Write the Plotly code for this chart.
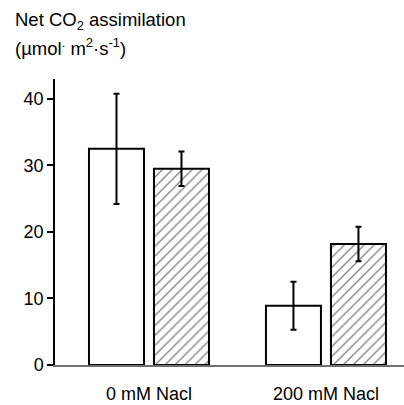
import plotly.graph_objects as go

groups = ["0 mM Nacl", "200 mM Nacl"]
control_vals = [32.5, 8.9]
control_err = [8.3, 3.6]
treated_vals = [29.5, 18.2]
treated_err = [2.6, 2.6]
y_ticks = [0, 10, 20, 30, 40]

FONT = "Liberation Sans Narrow, Arial Narrow, Liberation Sans, Arial, sans-serif"
xpos = [0, 1]
bw = 55 / 177

fig = go.Figure()
fig.add_trace(go.Bar(
    x=xpos, y=control_vals, width=bw, offset=-60 / 177,
    marker=dict(color="white", line=dict(color="black", width=2)),
    error_y=dict(type="data", array=control_err, color="black", thickness=2, width=3),
    showlegend=False,
))
fig.add_trace(go.Bar(
    x=xpos, y=treated_vals, width=bw, offset=5 / 177,
    marker=dict(color="white", line=dict(color="black", width=2),
                pattern=dict(shape="/", fgcolor="black", bgcolor="white", size=7, solidity=0.18)),
    error_y=dict(type="data", array=treated_err, color="black", thickness=2, width=3),
    showlegend=False,
))

fig.update_layout(
    width=404, height=405,
    margin=dict(l=55, r=0, t=79, b=40),
    plot_bgcolor="white", paper_bgcolor="white",
    barmode="overlay",
    font=dict(family=FONT, size=18, color="black"),
    xaxis=dict(range=[-0.531, 1.441], tickvals=xpos, ticktext=groups, showgrid=False,
               showline=True, linecolor="#707070", linewidth=2, ticks="", zeroline=False,
               ticklabelstandoff=11, tickfont=dict(size=18), automargin=False),
    yaxis=dict(range=[0, 43.0], tickvals=y_ticks, showgrid=False, showline=True,
               linecolor="black", linewidth=1.5, ticks="outside", ticklen=6, tickwidth=1.5,
               tickcolor="black", zeroline=False, tickfont=dict(size=18), automargin=False),
)
fig.add_annotation(xref="paper", yref="paper", x=-0.12, y=(365 - 21) / 286,
                   xanchor="left", yanchor="middle", showarrow=False, align="left",
                   text="Net CO<sub>2</sub> assimilation", font=dict(size=18.5))
fig.add_annotation(xref="paper", yref="paper", x=-0.12, y=(365 - 47) / 286,
                   xanchor="left", yanchor="middle", showarrow=False, align="left",
                   text="(µmol<sup>.</sup> m<sup>2</sup>·s<sup>-1</sup>)", font=dict(size=18.5))

fig.write_html("out.html")
